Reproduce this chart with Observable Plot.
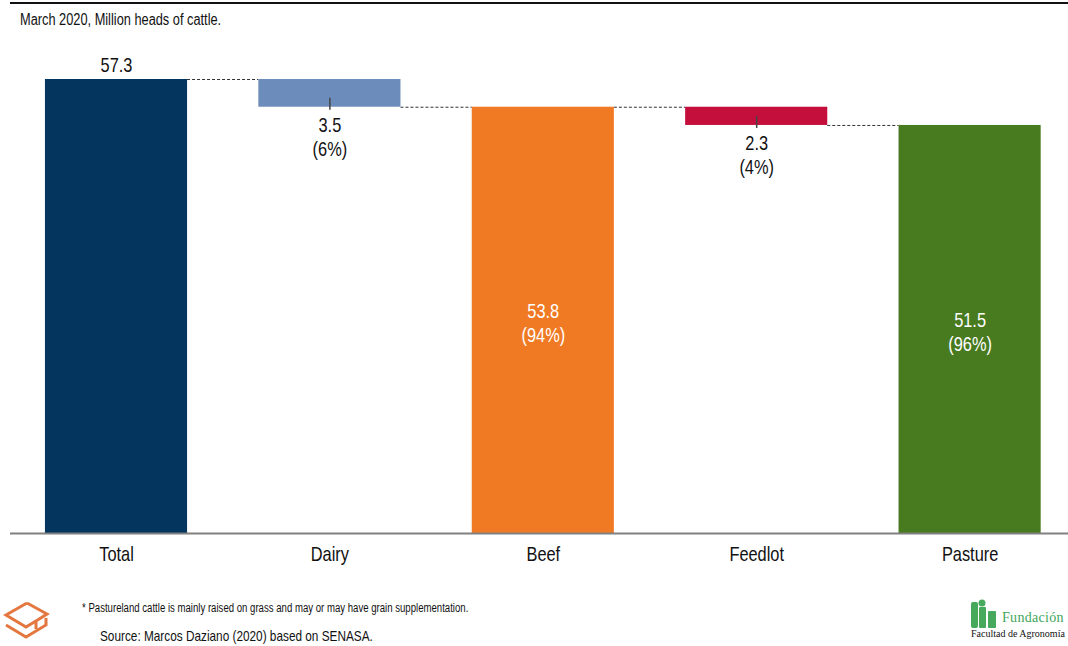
<!DOCTYPE html>
<html>
<head>
<meta charset="utf-8">
<script src="https://cdn.jsdelivr.net/npm/d3@7"></script>
<script src="https://cdn.jsdelivr.net/npm/@observablehq/plot@0.6"></script>
<style>
  html, body { margin: 0; padding: 0; background: #fff; }
  #page { position: relative; width: 1068px; height: 646px; overflow: hidden; background: #fff;
          font-family: "Liberation Sans", Arial, sans-serif; color: #111; }
  .abs { position: absolute; white-space: nowrap; }
  .narrow { display: inline-block; transform: scaleX(0.82); transform-origin: 0 0; }
  #chart svg { display: block; }
</style>
</head>
<body>
<div id="page">
  <div class="abs" style="left:10px;right:0;top:2px;height:2px;background:#111"></div>
  <div class="abs narrow" style="left:20px;top:11.5px;font-size:15.6px;line-height:15.6px">March 2020, Million heads of cattle.</div>
  <div id="chart" class="abs" style="left:0;top:30px"></div>
  <svg class="abs" style="left:0;top:598px" width="56" height="46" viewBox="0 0 56 46">
    <g fill="none" stroke="#E4773F" stroke-width="3" stroke-linejoin="miter">
      <path d="M27,5 L6,17 L26,29 L36,23"/>
      <path d="M27,5 L47,16 L36,23 L36,31"/>
      <path d="M6,27 L26,39 L46,27 L46,20"/>
    </g>
  </svg>
  <div class="abs narrow" style="left:82px;top:601.5px;font-size:12px;line-height:12px;transform:scaleX(0.8)">* Pastureland cattle is mainly raised on grass and may or may have grain supplementation.</div>
  <div class="abs narrow" style="left:100px;top:628.5px;font-size:14.4px;line-height:14.4px">Source: Marcos Daziano (2020) based on SENASA.</div>
  <svg class="abs" style="left:970px;top:599px" width="28" height="30" viewBox="0 0 28 30">
    <g fill="#46A95C">
      <rect x="1" y="3" width="7" height="26" rx="2"/>
      <circle cx="12" cy="4" r="3.5"/>
      <rect x="9" y="8" width="7" height="21" rx="1"/>
      <rect x="18" y="12" width="8" height="17" rx="1"/>
    </g>
  </svg>
  <div class="abs" style="left:1002px;top:611px;font-family:'Liberation Serif',serif;font-size:14px;line-height:14px;letter-spacing:0.3px;color:#3FA65A">Fundación</div>
  <div class="abs" style="left:971px;top:629px;font-family:'Liberation Serif',serif;font-size:10px;line-height:10px;color:#111">Facultad de Agronomía</div>
</div>
<script>
// ---- data ----
const categories = ["Total", "Dairy", "Beef", "Feedlot", "Pasture"];
const values = [57.3, 3.5, 53.8, 2.3, 51.5];
const kinds = ["total", "decrease", "total", "decrease", "total"];
const shares = [null, "6%", "94%", "4%", "96%"];
const colors = ["#03355F", "#6C8DBB", "#F07A24", "#C40E3C", "#487A1F"];

// ---- derived waterfall table ----
const fmt = d3.format(".1f");
let level = 0;
const rows = categories.map((c, i) => {
  let y1, y2;
  if (kinds[i] === "total") { y1 = 0; y2 = values[i]; level = values[i]; }
  else { y2 = level; y1 = level - values[i]; level = y1; }
  return {i, c, kind: kinds[i], value: values[i], share: shares[i], y1, y2};
});
const connectors = rows.slice(0, -1).map(r => ({i: r.i, y: r.kind === "total" ? r.y2 : r.y1}));
const hw = 0.333; // half bar width in band units
const font = '"Liberation Sans", Arial, sans-serif';

const totalsTop = rows.filter(r => r.kind === "total" && !r.share);
const totalsIn = rows.filter(r => r.kind === "total" && r.share);
const decreases = rows.filter(r => r.kind === "decrease");

const chart = Plot.plot({
  width: 1068,
  height: 545,
  marginTop: 49,
  marginBottom: 42,
  marginLeft: 10,
  marginRight: 0,
  style: {fontFamily: font, color: "#111", background: "transparent"},
  x: {type: "linear", domain: [-0.5, categories.length - 0.5], range: [9.3, 1076.3]},
  y: {domain: [0, values[0]], axis: null},
  color: {domain: categories, range: colors},
  marks: [
    Plot.ruleY(connectors, {y: "y", x1: d => d.i + hw, x2: d => d.i + 1 - hw,
      stroke: "#333", strokeWidth: 1, strokeDasharray: "3,2"}),
    Plot.rect(rows, {x1: d => d.i - hw, x2: d => d.i + hw, y1: "y1", y2: "y2", fill: "c"}),
    Plot.ruleX(decreases, {x: "i", y1: "y1", y2: "y1", insetTop: -9, insetBottom: -3,
      stroke: "#444", strokeWidth: 1.5}),
    Plot.ruleY([0], {stroke: "#808080", strokeWidth: 2}),
    Plot.text(totalsTop, {x: "i", y: "y2", text: d => fmt(d.value), dy: -14,
      lineAnchor: "middle", fontSize: 20, fill: "#111"}),
    Plot.text(totalsIn, {x: "i", y: d => (d.y1 + d.y2) / 2, text: d => `${fmt(d.value)}\n(${d.share})`,
      dy: 2, lineAnchor: "middle", lineHeight: 1.2, fontSize: 20, fill: "#fff"}),
    Plot.text(decreases, {x: "i", y: "y1", text: d => `${fmt(d.value)}\n(${d.share})`,
      dy: 29, lineAnchor: "middle", lineHeight: 1.2, fontSize: 20, fill: "#111"}),
    Plot.axisX({ticks: categories.map((c, i) => i), tickFormat: i => categories[i],
      tickSize: 0, tickPadding: 13, fontSize: 20, fill: "#111", label: null})
  ]
});
// condensed look: narrow every text horizontally around its own anchor
d3.select(chart).selectAll("text").each(function () {
  const t = this.getAttribute("transform");
  if (t) this.setAttribute("transform", t + " scale(0.82,1)");
});
document.getElementById("chart").appendChild(chart);
</script>
</body>
</html>
